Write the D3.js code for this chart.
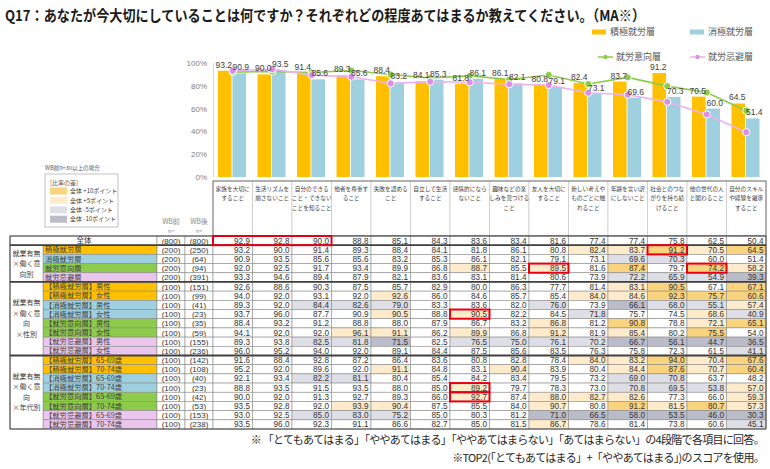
<!DOCTYPE html>
<html><head><meta charset="utf-8">
<script src="https://cdn.jsdelivr.net/npm/d3@7"></script>
<style>
body{margin:0;background:#fff}
svg{display:block}
text{font-family:"Noto Sans CJK JP","Noto Sans",sans-serif}
.num{font-family:"Liberation Sans","DejaVu Sans",sans-serif}
</style>
</head><body>
<svg id="c" width="770" height="469"></svg>
<script>
// ---------- DATA ----------
const titleText = "Q17：あなたが今大切にしていることは何ですか？それぞれどの程度あてはまるか教えてください。（MA※）";
const categories = ["家族を大切にすること","生活リズムを崩さないこと","自分のできること・できないことを知ること","他者を尊重すること","失敗を認めること","自立して生活すること","感情的にならないこと","趣味などの楽しみを見つけること","友人を大切にすること","新しい考えやものごとに触れること","年齢を言い訳にしないこと","社会とのつながりを持ち続けること","他の世代の人と関わること","自分のスキルや経験を継承すること"];
const categoryLines = [["家族を大切に","すること"],["生活リズムを","崩さないこと"],["自分のできる","こと・できない","ことを知ること"],["他者を尊重す","ること"],["失敗を認める","こと"],["自立して生活","すること"],["感情的になら","ないこと"],["趣味などの楽","しみを見つける","こと"],["友人を大切に","すること"],["新しい考えや","ものごとに触","れること"],["年齢を言い訳","にしないこと"],["社会とのつな","がりを持ち続","けること"],["他の世代の人","と関わること"],["自分のスキル","や経験を継承","すること"]];
const seriesNames = ["積極就労層","消極就労層","就労意向層","就労忌避層"];
const yTicks = [0,20,40,60,80,100];

const total        = [92.9,92.8,90.0,88.8,85.1,84.3,83.6,83.4,81.6,77.4,77.4,75.8,62.5,50.4];
const active       = [93.2,90.0,91.4,89.3,88.4,84.1,81.8,86.1,80.8,82.4,83.7,91.2,70.5,64.5];
const passive      = [90.9,93.5,85.6,85.6,83.2,85.3,86.1,82.1,79.1,73.1,69.6,70.3,60.0,51.4];
const willing      = [92.0,92.5,91.7,93.4,89.9,86.8,88.7,85.5,89.5,81.6,87.4,79.7,74.2,58.2];
const avoiding     = [93.3,94.6,89.4,87.9,82.1,83.6,83.1,81.4,80.6,73.9,72.2,65.9,54.9,39.3];
const activeMale   = [92.6,88.6,90.3,87.5,85.7,82.9,80.0,86.3,77.7,81.4,83.1,90.5,67.1,67.1];
const activeFemale = [94.0,92.0,93.1,92.0,92.6,86.0,84.6,85.7,85.4,84.0,84.6,92.3,75.7,60.6];
const passiveMale  = [89.3,92.0,84.4,82.6,79.0,83.3,83.6,82.0,76.0,73.9,66.1,68.0,55.1,57.4];
const passiveFemale= [93.7,96.0,87.7,90.9,90.5,88.8,90.5,82.2,84.5,71.8,75.7,74.5,68.6,40.9];
const willingMale  = [88.4,93.2,91.2,88.8,88.0,87.9,86.7,83.2,86.8,81.2,90.8,78.8,72.1,65.1];
const willingFemale= [94.1,92.0,92.0,96.1,91.1,86.2,89.9,86.8,91.2,81.9,85.4,80.2,75.5,54.0];
const avoidMale    = [89.3,93.8,82.5,81.8,71.5,82.5,76.5,75.0,76.1,70.2,66.7,56.1,44.7,36.5];
const avoidFemale  = [96.0,95.2,94.0,92.0,89.1,84.4,87.5,85.6,83.5,76.3,75.8,72.3,61.5,41.1];
const active6569   = [91.6,88.4,92.8,87.2,86.4,83.6,80.8,82.8,78.4,84.0,83.2,94.0,70.4,67.6];
const active7074   = [95.2,92.0,89.6,92.0,91.1,84.8,83.1,90.4,83.9,80.4,84.4,87.6,70.7,60.4];
const passive6569  = [92.1,93.4,82.2,81.1,80.4,85.4,84.2,83.4,79.5,73.2,69.0,70.8,63.7,48.2];
const passive7074  = [88.8,93.5,91.5,93.5,88.0,85.0,89.2,79.7,78.3,73.0,70.8,69.5,53.8,57.0];
const willing6569  = [90.0,92.0,91.3,92.7,89.3,86.0,92.7,87.4,88.0,82.7,82.6,77.3,66.0,59.3];
const willing7074  = [93.5,92.8,92.0,93.9,90.4,87.5,85.5,84.0,90.7,80.8,91.2,81.5,80.7,57.3];
const avoid6569    = [93.0,92.5,85.0,83.0,75.2,85.0,80.3,81.2,71.0,66.5,58.0,53.5,46.0,30.3];
const avoid7074    = [93.5,96.0,92.3,91.1,86.6,82.7,85.0,81.5,86.7,78.6,81.4,73.8,60.6,45.1];

const rowLabels = ["全体","積極就労層","消極就労層","就労意向層","就労忌避層",
  "【積極就労層】男性","【積極就労層】女性","【消極就労層】男性","【消極就労層】女性",
  "【就労意向層】男性","【就労意向層】女性","【就労忌避層】男性","【就労忌避層】女性",
  "【積極就労層】65-69歳","【積極就労層】70-74歳","【消極就労層】65-69歳","【消極就労層】70-74歳",
  "【就労意向層】65-69歳","【就労意向層】70-74歳","【就労忌避層】65-69歳","【就労忌避層】70-74歳"];
const rowTypes = [-1,0,1,2,3, 0,0,1,1,2,2,3,3, 0,0,1,1,2,2,3,3];
const nBefore = [800,200,200,200,200,100,100,100,100,100,100,100,100,100,100,100,100,100,100,100,100];
const nAfter  = [800,250,64,94,391,151,99,41,23,35,59,155,236,142,108,40,23,42,53,153,238];
const tableRows = [total,active,passive,willing,avoiding,activeMale,activeFemale,passiveMale,passiveFemale,willingMale,willingFemale,avoidMale,avoidFemale,active6569,active7074,passive6569,passive7074,willing6569,willing7074,avoid6569,avoid7074];
const groupLabels = [["就業有無","×働く意","向別"],["就業有無","×働く意","向","×性別"],["就業有無","×働く意","向","×年代別"]];
const groupRanges = [[1,4],[5,12],[13,20]];
// highlighted cells [row, firstCol, lastCol]
const redBoxes = [[0,0,2],[1,11,11],[3,8,8],[3,12,12],[8,6,6],[16,6,6],[17,6,6]];
const legendDiff = ["全体 +10ポイント","全体  +5ポイント","全体  -5ポイント","全体 -10ポイント"];
const footnotes = ["※ 「とてもあてはまる」「ややあてはまる」「ややあてはまらない」「あてはまらない」の4段階で各項目に回答。",
                   "※TOP2(「とてもあてはまる」+「ややあてはまる」)のスコアを使用。"];

// ---------- STYLE ----------
const colOrange = "#FFC000", colBlue = "#9ED0DF", colGreen = "#8DCB4A", colPinkLine = "#EDB2EC", colPinkDot = "#DA8FE2";
const typeFill = ["#FFC000","#9ED0DF","#8DCB4A","#EBC6EC"];
const diffFill = ["#FAD37F","#FDEBCB","#DEDEE6","#BBBCCA"];

const svg = d3.select("#c");

// title
svg.append("text").attr("x",5).attr("y",21).attr("font-size",15).attr("font-weight","bold")
  .attr("fill","#1a1a1a").attr("textLength",640).attr("lengthAdjust","spacingAndGlyphs").text(titleText);

// scales
const x = d3.scaleBand().domain(d3.range(categories.length)).range([213,766]);
const xs = d3.scaleBand().domain([0,1]).range([5,33]).paddingInner(0.06);
const y = d3.scaleLinear().domain([0,100]).range([177,63]);

// y axis
const yAxis = svg.append("g").attr("transform","translate(213,0)")
  .call(d3.axisLeft(y).tickValues(yTicks).tickFormat(d=>d+"%").tickSize(0).tickPadding(6));
yAxis.select(".domain").attr("stroke","#d9d9d9");
yAxis.selectAll("text").attr("fill","#7f7f7f").attr("font-size",8).attr("class","num");

// bars
const barSeries = [active, passive];
const barCols = [colOrange, colBlue];
barSeries.forEach((ser,si)=>{
  const g = svg.append("g");
  g.selectAll("rect").data(ser).join("rect")
    .attr("x",(d,i)=>x(i)+xs(si)).attr("width",xs.bandwidth())
    .attr("y",d=>y(d)).attr("height",d=>y(0)-y(d)).attr("fill",barCols[si]);
});
// lines
const line = d3.line().x((d,i)=>x(i)+x.bandwidth()/2).y(d=>y(d));
[[willing,colGreen,colGreen],[avoiding,colPinkLine,colPinkDot]].forEach(([ser,lc,dc])=>{
  svg.append("path").datum(ser).attr("d",line).attr("fill","none").attr("stroke",lc).attr("stroke-width",1.6);
  svg.append("g").selectAll("circle").data(ser).join("circle")
    .attr("cx",(d,i)=>x(i)+x.bandwidth()/2).attr("cy",d=>y(d)).attr("r",3.6)
    .attr("fill",dc).attr("stroke","#fff").attr("stroke-width",1);
});
// bar labels
barSeries.forEach((ser,si)=>{
  svg.append("g").selectAll("text").data(ser).join("text").attr("class","num")
    .attr("x",(d,i)=>x(i)+xs(si)+xs.bandwidth()/2 + (si? 1.5:-1))
    .attr("y",d=>y(d)-3).attr("text-anchor","middle").attr("font-size",8.5).attr("fill","#404040")
    .text(d=>d.toFixed(1));
});

// legend (top right)
const lg = svg.append("g");
const legendPos = [[592,32],[690,32],[598,57],[690,57]];
seriesNames.forEach((nm,i)=>{
  const [lx,ly] = legendPos[i];
  if(i<2){
    lg.append("rect").attr("x",lx).attr("y",ly-2.5).attr("width",14).attr("height",5).attr("fill",barCols[i]);
  } else {
    const c = i===2?colGreen:colPinkLine, dc = i===2?colGreen:colPinkDot;
    lg.append("line").attr("x1",lx).attr("x2",lx+15).attr("y1",ly).attr("y2",ly).attr("stroke",c).attr("stroke-width",1.5);
    lg.append("circle").attr("cx",lx+7.5).attr("cy",ly).attr("r",2.2).attr("fill",dc);
  }
  lg.append("text").attr("x",lx+18).attr("y",ly+3.2).attr("font-size",9).attr("fill","#595959").text(nm);
});

// left diff legend
svg.append("text").attr("x",45).attr("y",170).attr("font-size",5.6).attr("fill","#595959").text("WB前n=30以上の場合");
svg.append("rect").attr("x",45).attr("y",174).attr("width",73).attr("height",53).attr("fill","#fff").attr("stroke","#a6a6a6").attr("stroke-width",0.7);
svg.append("text").attr("x",50).attr("y",185).attr("font-size",6).attr("fill","#595959").text("[比率の差]");
legendDiff.forEach((t,i)=>{
  const ly = 191 + i*9.4;
  svg.append("rect").attr("x",50).attr("y",ly-3.5).attr("width",17).attr("height",7).attr("fill",diffFill[i]);
  svg.append("text").attr("x",70).attr("y",ly+2.2).attr("font-size",6).attr("fill","#404040").text(t);
});

// header of table
const hdr = svg.append("g");
hdr.append("text").attr("x",171).attr("y",224).attr("text-anchor","middle").attr("font-size",7).attr("fill","#8c8c8c").text("WB前");
hdr.append("text").attr("x",171).attr("y",233).attr("text-anchor","middle").attr("font-size",5.5).attr("fill","#8c8c8c").text("n=");
hdr.append("text").attr("x",199).attr("y",224).attr("text-anchor","middle").attr("font-size",7).attr("fill","#8c8c8c").text("WB後");
hdr.append("text").attr("x",199).attr("y",233).attr("text-anchor","middle").attr("font-size",5.5).attr("fill","#8c8c8c").text("n=");
categoryLines.forEach((ls,i)=>{
  hdr.append("rect").attr("x",x(i)).attr("y",181).attr("width",x.bandwidth()).attr("height",55)
    .attr("fill","#fff").attr("stroke","#bfbfbf").attr("stroke-width",0.6);
  ls.forEach((l,j)=>{
    hdr.append("text").attr("x",x(i)+x.bandwidth()/2).attr("y",191+j*9.4).attr("text-anchor","middle")
      .attr("font-size",5.7).attr("fill","#404040").text(l);
  });
});
hdr.append("rect").attr("x",213).attr("y",181).attr("width",553).attr("height",55).attr("fill","none").attr("stroke","#595959").attr("stroke-width",0.8);

// table body
const ry = d3.scaleBand().domain(d3.range(rowLabels.length)).range([236,429]);
const tb = svg.append("g");
function diffClass(v,t){
  const d = Math.round((v-t)*10)/10;
  if(d>=10) return 0; if(d>=5) return 1; if(d<=-10) return 3; if(d<=-5) return 2; return -1;
}
tableRows.forEach((vals,r)=>{
  const top = ry(r), h = ry.bandwidth();
  if(r===0){
    tb.append("rect").attr("x",10).attr("y",top).attr("width",147).attr("height",h).attr("fill","#fff").attr("stroke","#8c8c8c").attr("stroke-width",0.6);
    tb.append("text").attr("x",84).attr("y",top+h/2+2.6).attr("text-anchor","middle").attr("font-size",7.5).attr("fill","#333").text(rowLabels[r]);
  } else {
    tb.append("rect").attr("x",43).attr("y",top).attr("width",114).attr("height",h).attr("fill",typeFill[rowTypes[r]]).attr("stroke","#8c8c8c").attr("stroke-width",0.6);
    tb.append("text").attr("x",45).attr("y",top+h/2+2.6).attr("font-size",7.3).attr("fill","#404040").text(rowLabels[r]);
  }
  [[nBefore,157],[nAfter,185]].forEach(([arr,cx])=>{
    tb.append("rect").attr("x",cx).attr("y",top).attr("width",28).attr("height",h).attr("fill","#fff").attr("stroke","#8c8c8c").attr("stroke-width",0.6);
    tb.append("text").attr("class","num").attr("x",cx+14).attr("y",top+h/2+3).attr("text-anchor","middle").attr("font-size",8).attr("fill","#333").text("("+arr[r]+")");
  });
  vals.forEach((v,c)=>{
    const k = r===0 ? -1 : diffClass(v,total[c]);
    tb.append("rect").attr("x",x(c)).attr("y",top).attr("width",x.bandwidth()).attr("height",h)
      .attr("fill",k<0?"#fff":diffFill[k]).attr("stroke","#8c8c8c").attr("stroke-width",0.6);
    tb.append("text").attr("class","num").attr("x",x(c)+x.bandwidth()-2.5).attr("y",top+h/2+3).attr("text-anchor","end")
      .attr("font-size",8.2).attr("fill","#333").text(v.toFixed(1));
  });
});
groupRanges.forEach(([a,b],gi)=>{
  const top = ry(a), bot = ry(b)+ry.bandwidth();
  tb.append("rect").attr("x",10).attr("y",top).attr("width",33).attr("height",bot-top).attr("fill","#fff").attr("stroke","#8c8c8c").attr("stroke-width",0.6);
  const ls = groupLabels[gi], mid = (top+bot)/2, lh = 10.5;
  ls.forEach((l,j)=>{
    tb.append("text").attr("x",26.5).attr("y",mid+(j-(ls.length-1)/2)*lh+2.5).attr("text-anchor","middle")
      .attr("font-size",7).attr("fill","#404040").text(l);
  });
});
[0,1,5,13].forEach(r=>{
  const yy = ry(r);
  tb.append("line").attr("x1",10).attr("x2",766).attr("y1",yy).attr("y2",yy).attr("stroke","#404040").attr("stroke-width",r===0?1:1.8);
});
tb.append("line").attr("x1",10).attr("x2",766).attr("y1",429).attr("y2",429).attr("stroke","#404040").attr("stroke-width",1);
tb.append("line").attr("x1",10).attr("x2",10).attr("y1",236).attr("y2",429).attr("stroke","#404040").attr("stroke-width",1);
tb.append("line").attr("x1",766).attr("x2",766).attr("y1",236).attr("y2",429).attr("stroke","#404040").attr("stroke-width",1);
redBoxes.forEach(([r,c0,c1])=>{
  tb.append("rect").attr("x",x(c0)).attr("y",ry(r)).attr("width",x(c1)+x.bandwidth()-x(c0)).attr("height",ry.bandwidth())
    .attr("fill","none").attr("stroke","#E60012").attr("stroke-width",2);
});

// footnotes
footnotes.forEach((t,i)=>{
  svg.append("text").attr("x",764).attr("y",444+i*18).attr("text-anchor","end").attr("font-size",11)
    .attr("letter-spacing",-0.7).attr("fill","#262626").text(t);
});
</script>
</body></html>
